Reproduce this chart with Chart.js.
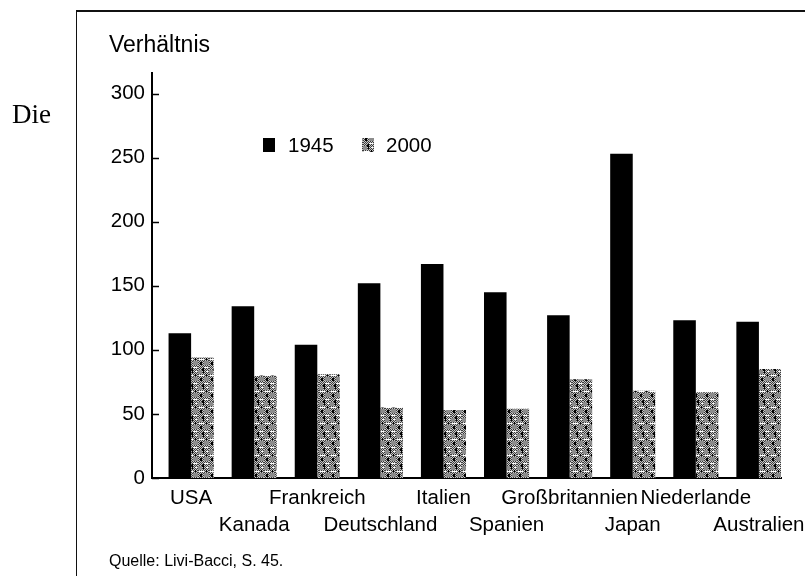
<!DOCTYPE html>
<html>
<head>
<meta charset="utf-8">
<script src="https://cdn.jsdelivr.net/npm/chart.js@4/dist/chart.umd.min.js"></script>
<style>
  html, body { margin: 0; padding: 0; background: #fff; }
  #wrap { position: relative; width: 805px; height: 576px; overflow: hidden; background: #fff; }
  #c { position: absolute; left: 0; top: 0; }
  .frame { position: absolute; left: 76px; top: 10px; width: 760px; height: 600px;
           border-left: 1.5px solid #111; border-top: 2px solid #111; }
  .txt { position: absolute; color: #000; white-space: nowrap; line-height: 1; }
  #die { left: 12px; top: 99px; font: 27px "Liberation Serif", "Times New Roman", serif; }
  #ylab { left: 109px; top: 31px; font: 23px "Liberation Sans", Arial, sans-serif; }
  #src { left: 109px; top: 552px; font: 16px "Liberation Sans", Arial, sans-serif; }
</style>
</head>
<body>
<div id="wrap">
  <div class="frame"></div>
  <canvas id="c" width="805" height="576"></canvas>
  <div class="txt" id="die">Die</div>
  <div class="txt" id="ylab">Verhältnis</div>
  <div class="txt" id="src">Quelle: Livi-Bacci, S. 45.</div>
</div>
<script>
// ---- data ----
const categories = ['USA', 'Kanada', 'Frankreich', 'Deutschland', 'Italien', 'Spanien',
                    'Großbritannien', 'Japan', 'Niederlande', 'Australien'];
const seriesLabels = ['1945', '2000'];
const values1945 = [113, 134, 104, 152, 167, 145, 127, 253, 123, 122];
const values2000 = [94, 80, 81, 55, 53, 54, 77, 68, 67, 85];
const yTicks = [0, 50, 100, 150, 200, 250, 300];

// ---- dithered gray pattern for 2000 ----
function makePattern() {
  const W = 11, H = 16;
  const p = document.createElement('canvas');
  p.width = W; p.height = H;
  const g = p.getContext('2d');
  for (let y = 0; y < H; y++) {
    for (let x = 0; x < W; x++) {
      g.fillStyle = ((x + y) % 2 === 0) ? '#3a3a3a' : '#c8c8c8';
      g.fillRect(x, y, 1, 1);
    }
  }
  g.fillStyle = '#8c8c8c';
  g.fillRect(0, 2, 4, 4);
  g.fillRect(6, 9, 5, 4);
  g.fillStyle = '#ffffff';
  g.fillRect(1, 7, 5, 1);
  g.fillRect(6, 15, 4, 1);
  g.fillRect(8, 3, 2, 1);
  g.fillStyle = '#000000';
  g.fillRect(5, 0, 1, 5);
  g.fillRect(4, 1, 1, 2);
  g.fillRect(2, 10, 2, 3);
  g.fillRect(8, 6, 1, 2);
  return g.createPattern(p, 'repeat');
}
const ctx = document.getElementById('c').getContext('2d');
const grayPattern = makePattern();

const toXY = arr => arr.map((v, i) => ({ x: i, y: v }));

const font = { family: '"Liberation Sans", Arial, sans-serif', size: 20.5 };

// inside tick marks on y axis + legend
const decor = {
  id: 'decor',
  afterDraw(chart) {
    const c = chart.ctx;
    const ys = chart.scales.y;
    const left = chart.chartArea.left;
    c.save();
    c.strokeStyle = '#000';
    c.lineWidth = 1.5;
    ys.ticks.forEach(t => {
      const py = Math.round(ys.getPixelForValue(t.value)) + 0.5;
      c.beginPath();
      c.moveTo(left, py);
      c.lineTo(left + 7, py);
      c.stroke();
    });
    const items = [
      { x: 263, textX: 288 },
      { x: 362, textX: 386 }
    ];
    c.font = '20.5px "Liberation Sans", Arial, sans-serif';
    c.textBaseline = 'middle';
    chart.data.datasets.forEach((ds, i) => {
      const it = items[i];
      c.fillStyle = ds.backgroundColor;
      c.fillRect(it.x, 138, 12, 14);
      c.fillStyle = '#000';
      c.fillText(ds.label, it.textX, 146);
    });
    c.restore();
  }
};

new Chart(ctx, {
  type: 'bar',
  data: {
    datasets: [
      { label: seriesLabels[0], data: toXY(values1945), backgroundColor: '#000000',
        categoryPercentage: 0.715, barPercentage: 1.0 },
      { label: seriesLabels[1], data: toXY(values2000), backgroundColor: grayPattern,
        categoryPercentage: 0.715, barPercentage: 1.0 }
    ]
  },
  options: {
    responsive: false,
    animation: false,
    devicePixelRatio: 1,
    layout: { padding: { left: 0, right: 24, top: 73, bottom: 0 } },
    plugins: { legend: { display: false }, tooltip: { enabled: false } },
    scales: {
      x: {
        type: 'linear',
        offset: false,
        min: -0.62,
        max: 9.35,
        grid: { display: false, drawTicks: false, offset: false },
        border: { display: true, color: '#000', width: 2 },
        afterBuildTicks: s => { s.ticks = categories.map((_, i) => ({ value: i })); },
        afterFit: s => { s.height = 98; s.paddingLeft = 0; s.paddingRight = 0; },
        ticks: {
          autoSkip: false, maxRotation: 0, minRotation: 0,
          padding: 7, color: '#000',
          font: { ...font, lineHeight: 1.3 },
          callback: (v, i) => (i % 2 === 0 ? [categories[i], ''] : ['', categories[i]])
        }
      },
      y: {
        min: 0,
        max: 316,
        grid: { display: false, drawTicks: false },
        border: { display: true, color: '#000', width: 2 },
        afterBuildTicks: s => { s.ticks = yTicks.map(v => ({ value: v })); },
        afterFit: s => { s.width = 152; s.paddingTop = 0; s.paddingBottom = 0; },
        ticks: { padding: 7, color: '#000', font: font }
      }
    }
  },
  plugins: [decor]
});
</script>
</body>
</html>
